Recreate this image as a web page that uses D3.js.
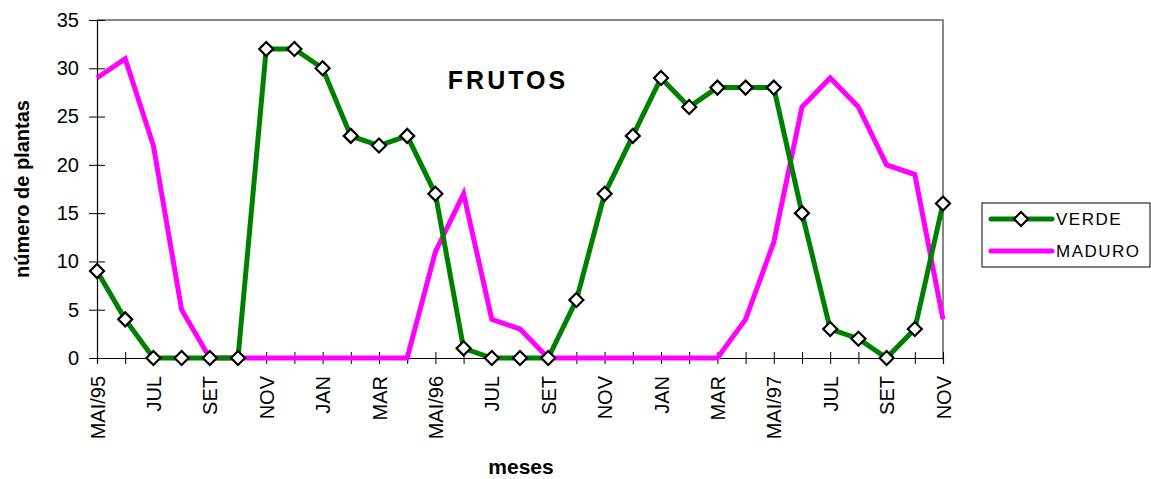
<!DOCTYPE html>
<html>
<head>
<meta charset="utf-8">
<script src="https://cdn.jsdelivr.net/npm/d3@7"></script>
<style>
  body { margin: 0; background: #fff; }
  text { font-family: "Liberation Sans", Arial, sans-serif; }
</style>
</head>
<body>
<div id="chart"></div>
<script>
// meses: maio/95 a novembro/97
const months = ["MAI/95","JUN","JUL","AGO","SET","OUT","NOV","DEZ","JAN","FEV","MAR","ABR",
  "MAI/96","JUN","JUL","AGO","SET","OUT","NOV","DEZ","JAN","FEV","MAR","ABR",
  "MAI/97","JUN","JUL","AGO","SET","OUT","NOV"];
const verde = [9,4,0,0,0,0,32,32,30,23,22,23,17,1,0,0,0,6,17,23,29,26,28,28,28,15,3,2,0,3,16];
const maduro = [29,31,22,5,0,0,0,0,0,0,0,0,11,17,4,3,0,0,0,0,0,0,0,4,12,26,29,26,20,19,4];
const yTicks = [0,5,10,15,20,25,30,35];

const width = 1151, height = 479;
const margin = {top: 20, right: 208, bottom: 121, left: 97};
const innerW = width - margin.left - margin.right;
const innerH = height - margin.top - margin.bottom;

const svg = d3.select("#chart").append("svg")
  .attr("width", width).attr("height", height);
const g = svg.append("g").attr("transform", `translate(${margin.left},${margin.top})`);

const x = d3.scaleLinear().domain([0, months.length - 1]).range([0, innerW]);
const y = d3.scaleLinear().domain([0, 35]).range([innerH, 0]);

// moldura cinza (topo e direita)
g.append("path")
  .attr("d", `M0,0H${innerW}V${innerH}`)
  .attr("fill", "none").attr("stroke", "#888").attr("stroke-width", 2);

// eixo y
const yAxis = g.append("g")
  .call(d3.axisLeft(y).tickValues(yTicks).tickSize(8).tickPadding(10));
yAxis.select(".domain").attr("stroke", "#000").attr("stroke-width", 1.2);
yAxis.selectAll(".tick line").attr("x2", 8).attr("x1", -8).attr("stroke", "#000");
yAxis.selectAll("text").style("font-size", "20px").attr("fill", "#000");

// eixo x
const xAxis = g.append("g").attr("transform", `translate(0,${innerH})`)
  .call(d3.axisBottom(x).tickValues(d3.range(months.length))
    .tickFormat(i => i % 2 === 0 ? months[i] : "").tickSize(6));
xAxis.select(".domain").attr("stroke", "#000").attr("stroke-width", 1.2);
xAxis.selectAll(".tick line").attr("y1", -6).attr("y2", 6).attr("stroke", "#000");
xAxis.selectAll("text")
  .style("font-size", "20px").attr("fill", "#000")
  .attr("transform", "rotate(-90)")
  .attr("text-anchor", "end")
  .attr("x", -18).attr("y", 0).attr("dy", "0.35em");

// linhas
const line = d3.line().x((d, i) => x(i)).y(d => y(d));
g.append("path").datum(maduro).attr("d", line)
  .attr("fill", "none").attr("stroke", "#ff00ff").attr("stroke-width", 5)
  .attr("stroke-linejoin", "miter");
g.append("path").datum(verde).attr("d", line)
  .attr("fill", "none").attr("stroke", "#008000").attr("stroke-width", 5)
  .attr("stroke-linejoin", "miter");

const diamond = "M0,-7L7,0L0,7L-7,0Z";
g.selectAll(".mk").data(verde).join("path")
  .attr("class", "mk")
  .attr("d", diamond)
  .attr("transform", (d, i) => `translate(${x(i)},${y(d)})`)
  .attr("fill", "#fff").attr("stroke", "#000").attr("stroke-width", 2.2);

// títulos
g.append("text")
  .attr("x", 411).attr("y", 69)
  .attr("text-anchor", "middle")
  .style("font-size", "25px").style("font-weight", "bold").style("letter-spacing", "3px")
  .text("FRUTOS");

svg.append("text")
  .attr("x", 521).attr("y", 474)
  .attr("text-anchor", "middle")
  .style("font-size", "21px").style("font-weight", "bold")
  .text("meses");

svg.append("text")
  .attr("transform", `translate(29,${margin.top + innerH / 2}) rotate(-90)`)
  .attr("text-anchor", "middle")
  .style("font-size", "20px").style("font-weight", "bold")
  .text("número de plantas");

// legenda
const leg = svg.append("g").attr("transform", "translate(982,203)");
leg.append("rect").attr("width", 168).attr("height", 64)
  .attr("fill", "#fff").attr("stroke", "#000").attr("stroke-width", 1);
const items = [{name: "VERDE", color: "#008000", marker: true},
               {name: "MADURO", color: "#ff00ff", marker: false}];
items.forEach((it, k) => {
  const yy = 16 + k * 32;
  leg.append("line").attr("x1", 9).attr("x2", 70).attr("y1", yy).attr("y2", yy)
    .attr("stroke", it.color).attr("stroke-width", 5).attr("stroke-linecap", "round");
  if (it.marker) {
    leg.append("path").attr("d", diamond).attr("transform", `translate(39,${yy})`)
      .attr("fill", "#fff").attr("stroke", "#000").attr("stroke-width", 2.2);
  }
  leg.append("text").attr("x", 74).attr("y", yy).attr("dy", "0.35em")
    .style("font-size", "17px").style("letter-spacing", "1.5px")
    .text(it.name);
});
</script>
</body>
</html>
